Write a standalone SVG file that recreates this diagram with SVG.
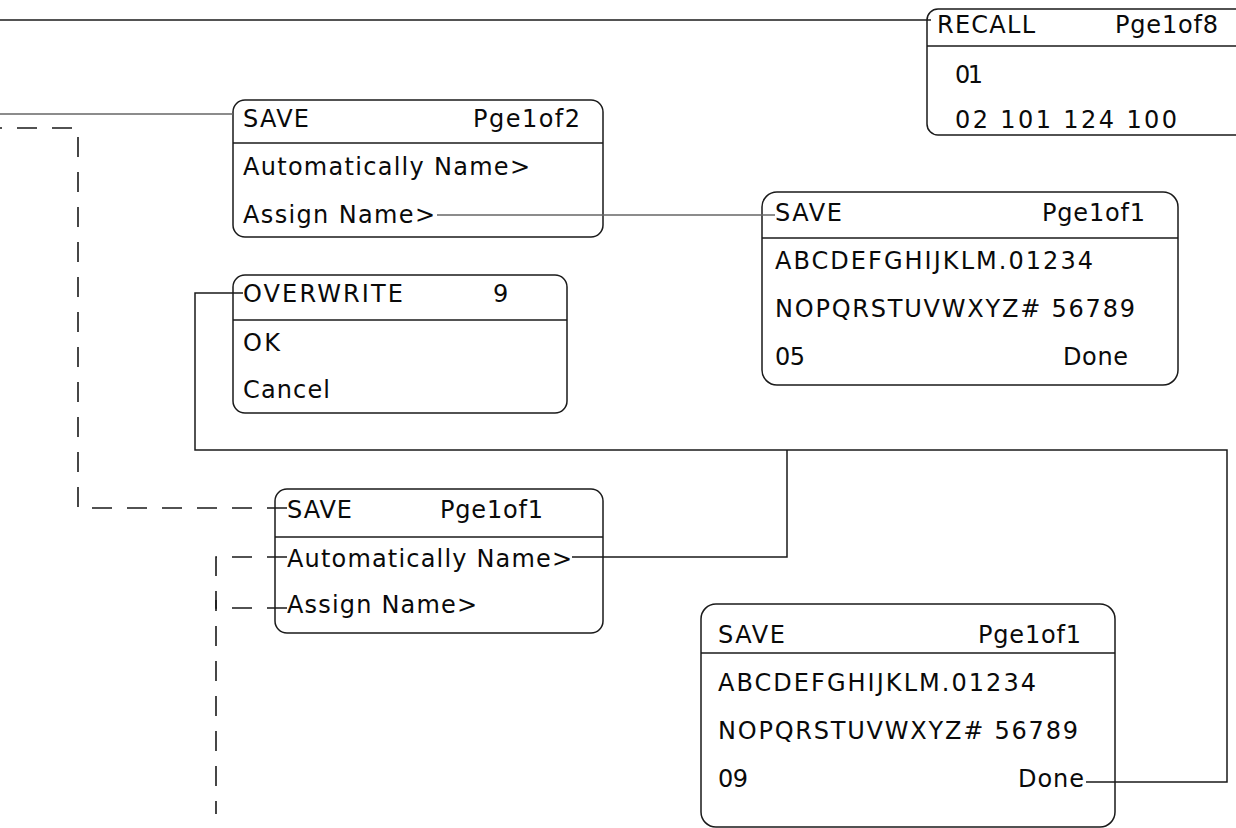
<svg xmlns="http://www.w3.org/2000/svg" width="1236" height="828" viewBox="0 0 1236 828">
<style>
  .box { fill: #ffffff; stroke: #1a1a1a; stroke-width: 1.5; }
  .sep { stroke: #1a1a1a; stroke-width: 1.5; }
  .t { font-family: "DejaVu Sans", Verdana, sans-serif; font-size: 24px; fill: #0a0a0a; }
  .c { fill: none; stroke: #1a1a1a; stroke-width: 1.5; }
  .g { fill: none; stroke: #666666; stroke-width: 1.5; }
  .d { fill: none; stroke: #1a1a1a; stroke-width: 1.6; stroke-dasharray: 20 15; }
</style>
<rect width="1236" height="828" fill="#ffffff"/>

<g id="n_recall">
  <rect class="box" x="927" y="9" width="340" height="126" rx="11"/>
  <line class="sep" x1="927" y1="46" x2="1236" y2="46"/>
  <text class="t" x="937" y="33" textLength="98" lengthAdjust="spacing">RECALL</text>
  <text class="t" x="1115" y="33" textLength="103" lengthAdjust="spacing">Pge1of8</text>
  <text class="t" x="955" y="83" textLength="28" lengthAdjust="spacing">01</text>
  <text class="t" x="955" y="128" textLength="222" lengthAdjust="spacing">02  101 124 100</text>
</g>

<g id="n_save_p2">
  <rect class="box" x="233" y="100" width="370" height="137" rx="12"/>
  <line class="sep" x1="233" y1="143" x2="603" y2="143"/>
  <text class="t" x="243" y="127" textLength="66" lengthAdjust="spacing">SAVE</text>
  <text class="t" x="473" y="127" textLength="107" lengthAdjust="spacing">Pge1of2</text>
  <text class="t" x="243" y="175" textLength="287" lengthAdjust="spacing">Automatically Name&gt;</text>
  <text class="t" x="243" y="223" textLength="192" lengthAdjust="spacing">Assign Name&gt;</text>
</g>

<g id="n_save_kbd1">
  <rect class="box" x="762" y="192" width="416" height="193" rx="15"/>
  <line class="sep" x1="762" y1="238" x2="1178" y2="238"/>
  <text class="t" x="775" y="221" textLength="67" lengthAdjust="spacing">SAVE</text>
  <text class="t" x="1042" y="221" textLength="103" lengthAdjust="spacing">Pge1of1</text>
  <text class="t" x="775" y="269" textLength="318" lengthAdjust="spacing">ABCDEFGHIJKLM.01234</text>
  <text class="t" x="775" y="317" textLength="360" lengthAdjust="spacing">NOPQRSTUVWXYZ# 56789</text>
  <text class="t" x="775" y="365" textLength="30" lengthAdjust="spacing">05</text>
  <text class="t" x="1063" y="365" textLength="65" lengthAdjust="spacing">Done</text>
</g>

<g id="n_overwrite">
  <rect class="box" x="233" y="275" width="334" height="138" rx="12"/>
  <line class="sep" x1="233" y1="320" x2="567" y2="320"/>
  <text class="t" x="243" y="302" textLength="160" lengthAdjust="spacing">OVERWRITE</text>
  <text class="t" x="493" y="302" textLength="15" lengthAdjust="spacing">9</text>
  <text class="t" x="243" y="351" textLength="37" lengthAdjust="spacing">OK</text>
  <text class="t" x="243" y="398" textLength="87" lengthAdjust="spacing">Cancel</text>
</g>

<g id="n_save_p1">
  <rect class="box" x="275" y="489" width="328" height="144" rx="12"/>
  <line class="sep" x1="275" y1="537" x2="603" y2="537"/>
  <text class="t" x="287" y="518" textLength="65" lengthAdjust="spacing">SAVE</text>
  <text class="t" x="440" y="518" textLength="103" lengthAdjust="spacing">Pge1of1</text>
  <text class="t" x="287" y="567" textLength="285" lengthAdjust="spacing">Automatically Name&gt;</text>
  <text class="t" x="287" y="613" textLength="190" lengthAdjust="spacing">Assign Name&gt;</text>
</g>

<g id="n_save_kbd2">
  <rect class="box" x="701" y="604" width="414" height="223" rx="15"/>
  <line class="sep" x1="701" y1="653" x2="1115" y2="653"/>
  <text class="t" x="718" y="643" textLength="67" lengthAdjust="spacing">SAVE</text>
  <text class="t" x="978" y="643" textLength="103" lengthAdjust="spacing">Pge1of1</text>
  <text class="t" x="718" y="691" textLength="318" lengthAdjust="spacing">ABCDEFGHIJKLM.01234</text>
  <text class="t" x="718" y="739" textLength="360" lengthAdjust="spacing">NOPQRSTUVWXYZ# 56789</text>
  <text class="t" x="718" y="787" textLength="30" lengthAdjust="spacing">09</text>
  <text class="t" x="1018" y="787" textLength="66" lengthAdjust="spacing">Done</text>
</g>

<g id="connectors">
  <line class="c" x1="0" y1="20" x2="931" y2="20"/>
  <line class="g" x1="0" y1="114" x2="233" y2="114"/>
  <line class="g" x1="437" y1="215" x2="775" y2="215"/>
  <path class="c" d="M243,293 H195 V450 H1227 V782 H1086"/>
  <path class="c" d="M572,557 H787 V450"/>
  <path class="d" d="M287,508 H78 V128 H0"/>
  <path class="d" d="M287,557 H216 V814"/>
  <path class="d" d="M287,608 H216 V600"/>
</g>
</svg>
